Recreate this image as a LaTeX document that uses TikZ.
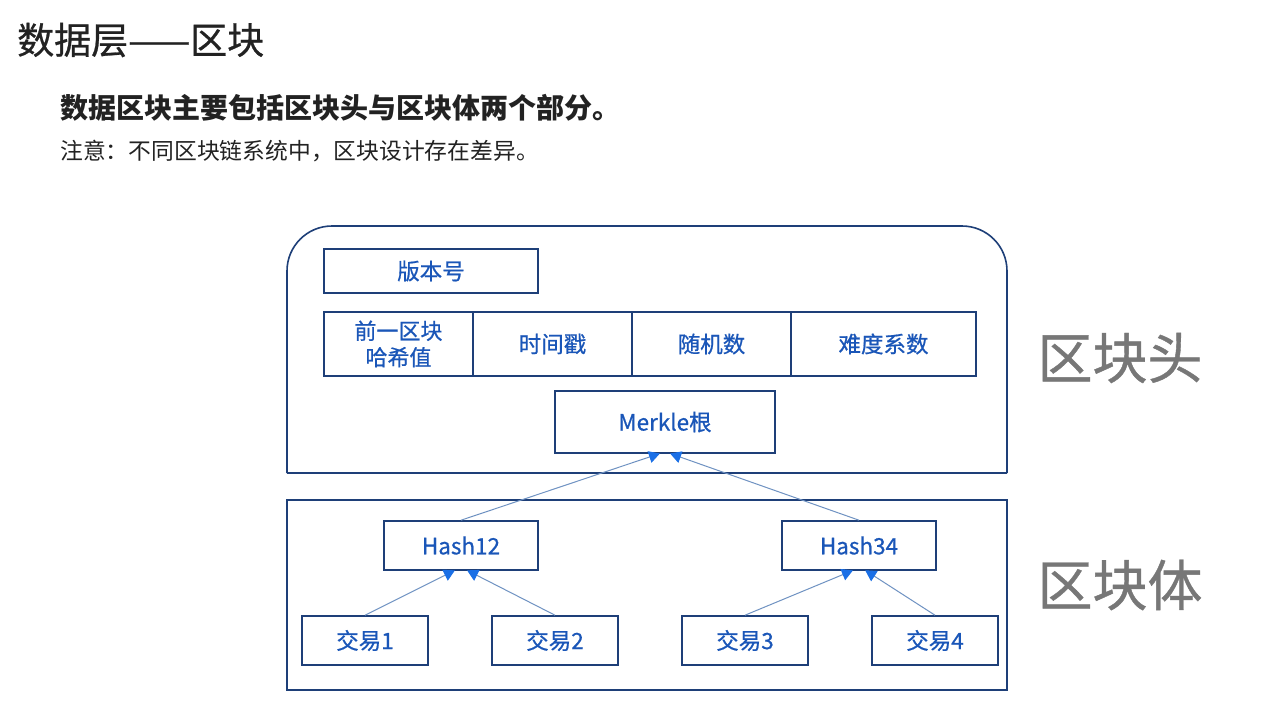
\documentclass[tikz,border=0pt]{standalone}
\usepackage{fontspec}
\setmainfont{Noto Sans CJK SC}
\newfontfamily\medium[FakeBold=0.7]{Noto Sans CJK SC}
\usetikzlibrary{arrows.meta,calc}
\definecolor{frame}{HTML}{1E3F78}
\definecolor{label}{HTML}{1A56B8}
\definecolor{link}{HTML}{6F92C2}
\definecolor{tip}{HTML}{1A6FE6}
\definecolor{side}{HTML}{777777}
\definecolor{ink}{HTML}{222222}
\newcommand{\fsz}[1]{\fontsize{#1}{#1}\selectfont}
\tikzset{
  field/.style={draw=frame, line width=1.6pt, fill=white, text=label,
    font=\medium\fsz{22.5}, inner sep=0pt, align=center},
  fieldbox/.style 2 args={field, minimum width=#1, minimum height=#2},
  link/.style={draw=link, line width=1pt,
    -{Triangle[width=12pt,length=11pt,color=tip]}, shorten >=-1pt},
  part/.style={text=side, font=\medium\fsz{55}, inner sep=0pt}
}
\begin{document}
\begin{tikzpicture}[x=1pt,y=-1pt]
\useasboundingbox[fill=white] (0,0) rectangle (1264,701);

% headings
\node[anchor=west, text=ink, font=\medium\fsz{37}, inner sep=0pt] (title) at (17,40) {数据层——区块};
\node[anchor=west, text=ink, font=\bfseries\fsz{28}, inner sep=0pt] (lead) at (60,108) {数据区块主要包括区块头与区块体两个部分。};
\node[anchor=west, text=ink, font=\fsz{22.8}, inner sep=0pt] (note) at (60,151) {注意：不同区块链系统中，区块设计存在差异。};

% block header container (rounded top corners)
\draw[frame, line width=1.6pt, rounded corners=45pt] (287,473) -- (287,226) -- (1007,226) -- (1007,473);
\draw[frame, line width=1.6pt] (287,473) -- (1007,473);
% block body container
\draw[frame, line width=1.6pt] (287,500) rectangle (1007,690);

% header fields
\node[fieldbox={214pt}{44pt}] (ver) at (431,271) {版本号};
\node[fieldbox={149pt}{64pt}, font=\medium\fsz{22}\linespread{1.2}\selectfont] (prev) at (398.5,344) {前一区块\\哈希值};
\node[fieldbox={159pt}{64pt}] (time) at (552.5,344) {时间戳};
\node[fieldbox={159pt}{64pt}] (nonce) at (711.5,344) {随机数};
\node[fieldbox={185pt}{64pt}] (diff) at (883.5,344) {难度系数};
\node[fieldbox={220pt}{62pt}] (merkle) at (665,422) {Merkle根};

% body: hash tree
\node[fieldbox={154pt}{49pt}] (h12) at (461,545.5) {Hash12};
\node[fieldbox={154pt}{49pt}] (h34) at (859,545.5) {Hash34};
\node[fieldbox={126pt}{49pt}] (t1) at (365,640.5) {交易1};
\node[fieldbox={126pt}{49pt}] (t2) at (555,640.5) {交易2};
\node[fieldbox={126pt}{49pt}] (t3) at (745,640.5) {交易3};
\node[fieldbox={126pt}{49pt}] (t4) at (935,640.5) {交易4};

\draw[link] (h12.north) -- ($(merkle.south)+(-6,0)$);
\draw[link] (h34.north) -- ($(merkle.south)+(6,0)$);
\draw[link] (t1.north) -- ($(h12.south)+(-7,0)$);
\draw[link] (t2.north) -- ($(h12.south)+(7,0)$);
\draw[link] (t3.north) -- ($(h34.south)+(-7,0)$);
\draw[link] (t4.north) -- ($(h34.south)+(7,0)$);

% side captions
\node[part] (headcap) at (1120,358) {区块头};
\node[part] (bodycap) at (1120,585) {区块体};
\end{tikzpicture}
\end{document}
